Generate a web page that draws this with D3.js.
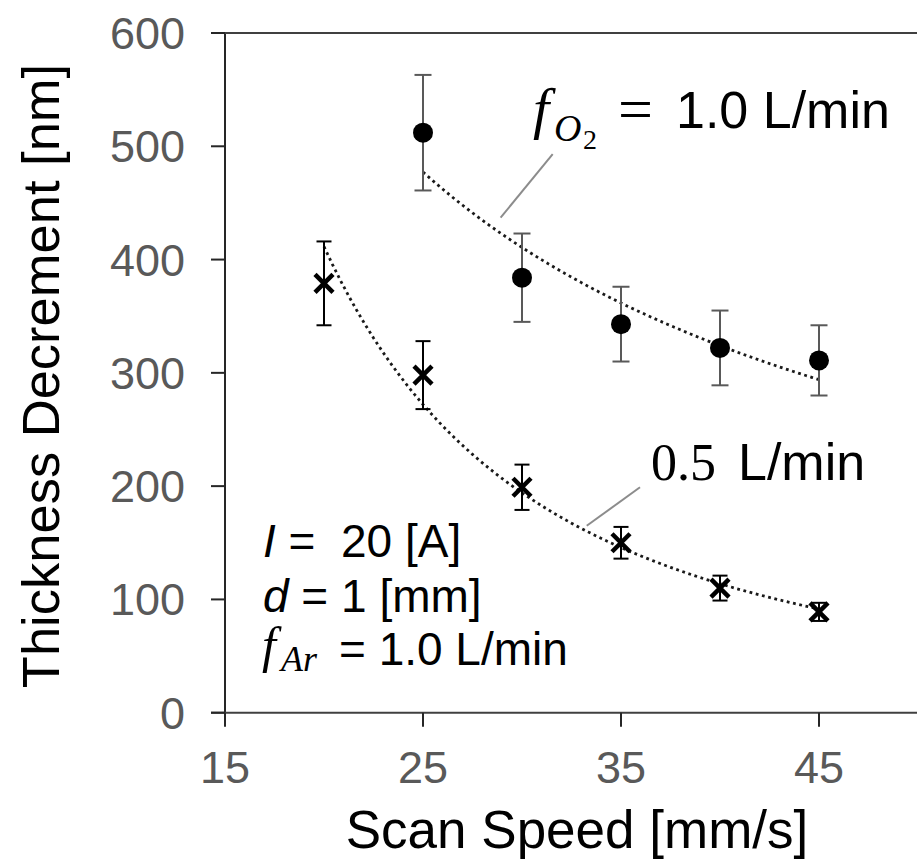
<!DOCTYPE html>
<html>
<head>
<meta charset="utf-8">
<script src="https://d3js.org/d3.v7.min.js"></script>
<style>
  body { margin: 0; background: white; }
  svg text { font-family: "Liberation Sans", Arial, sans-serif; white-space: pre; }
  .serif { font-family: "Liberation Serif", "Times New Roman", serif; }
</style>
</head>
<body>
<div id="chart"></div>
<script>
// data
var speedO2 = [25, 30, 35, 40, 45];
var thickO2 = [512, 384, 343, 322, 311];
var errO2   = [51, 39, 33, 33, 31];

var speedAr = [20, 25, 30, 35, 40, 45];
var thickAr = [379, 298, 199, 150, 110, 89];
var errAr   = [37, 30, 20, 14, 11, 8];

var xTicks = [15, 25, 35, 45];
var yTicks = [0, 100, 200, 300, 400, 500, 600];

var W = 917, H = 861;

var svg = d3.select("#chart").append("svg")
  .attr("width", W).attr("height", H);

svg.append("rect").attr("width", W).attr("height", H).attr("fill", "white");

var x = d3.scaleLinear().domain([15, 50]).range([225, 918]);
var y = d3.scaleLinear().domain([0, 600]).range([712.7, 33]);

// frame lines (left, top, bottom)
var axisColor = "#262626";
svg.append("line").attr("x1", x(15)).attr("x2", x(15)).attr("y1", y(600)).attr("y2", y(0))
  .attr("stroke", axisColor).attr("stroke-width", 2);
svg.append("line").attr("x1", x(15) - 14).attr("x2", W).attr("y1", y(600)).attr("y2", y(600))
  .attr("stroke", "#404040").attr("stroke-width", 2);
svg.append("line").attr("x1", x(15) - 14).attr("x2", W).attr("y1", y(0)).attr("y2", y(0))
  .attr("stroke", "#404040").attr("stroke-width", 2);

// y ticks + labels
var gy = svg.append("g");
gy.selectAll("line").data(yTicks).enter().append("line")
  .attr("x1", x(15) - 14).attr("x2", x(15))
  .attr("y1", function(d) { return y(d); }).attr("y2", function(d) { return y(d); })
  .attr("stroke", axisColor).attr("stroke-width", 2);
gy.selectAll("text").data(yTicks).enter().append("text")
  .attr("x", 185).attr("y", function(d) { return y(d) + 16; })
  .attr("text-anchor", "end").attr("font-size", 45).attr("fill", "#595959")
  .text(function(d) { return d; });

// x ticks + labels
var gx = svg.append("g");
gx.selectAll("line").data(xTicks).enter().append("line")
  .attr("x1", function(d) { return x(d); }).attr("x2", function(d) { return x(d); })
  .attr("y1", y(0)).attr("y2", y(0) + 14)
  .attr("stroke", axisColor).attr("stroke-width", 2);
gx.selectAll("text").data(xTicks).enter().append("text")
  .attr("x", function(d) { return x(d); }).attr("y", 783)
  .attr("text-anchor", "middle").attr("font-size", 45).attr("fill", "#595959")
  .text(function(d) { return d; });

// axis titles
svg.append("text").attr("x", 577).attr("y", 848).attr("text-anchor", "middle")
  .attr("font-size", 53).attr("fill", "#000").text("Scan Speed [mm/s]");
svg.append("text").attr("transform", "translate(59,376) rotate(-90)").attr("text-anchor", "middle")
  .attr("font-size", 52.5).attr("fill", "#000").text("Thickness Decrement [nm]");

// power-law trendline (least squares in log-log)
function powerFit(xs, ys) {
  var lx = xs.map(Math.log), ly = ys.map(Math.log);
  var mx = d3.mean(lx), my = d3.mean(ly);
  var sxy = d3.sum(lx, function(v, i) { return (v - mx) * (ly[i] - my); });
  var sxx = d3.sum(lx, function(v) { return (v - mx) * (v - mx); });
  var b = sxy / sxx, a = Math.exp(my - b * mx);
  return function(v) { return a * Math.pow(v, b); };
}

function trend(xs, ys) {
  var f = powerFit(xs, ys);
  var lo = d3.min(xs), hi = d3.max(xs), pts = [];
  for (var i = 0; i <= 60; i++) { var v = lo + (hi - lo) * i / 60; pts.push([v, f(v)]); }
  svg.append("path").datum(pts)
    .attr("d", d3.line().x(function(d) { return x(d[0]); }).y(function(d) { return y(d[1]); }))
    .attr("fill", "none").attr("stroke", "#1a1a1a").attr("stroke-width", 2.8)
    .attr("stroke-dasharray", "2.8,3.6");
}

function errorBars(xs, ys, es, color, cap) {
  var g = svg.append("g").attr("stroke", color).attr("stroke-width", 2);
  xs.forEach(function(v, i) {
    g.append("line").attr("x1", x(v)).attr("x2", x(v)).attr("y1", y(ys[i] - es[i])).attr("y2", y(ys[i] + es[i]));
    g.append("line").attr("x1", x(v) - cap).attr("x2", x(v) + cap).attr("y1", y(ys[i] + es[i])).attr("y2", y(ys[i] + es[i]));
    g.append("line").attr("x1", x(v) - cap).attr("x2", x(v) + cap).attr("y1", y(ys[i] - es[i])).attr("y2", y(ys[i] - es[i]));
  });
}

trend(speedO2, thickO2);
trend(speedAr, thickAr);
errorBars(speedO2, thickO2, errO2, "#595959", 8.5);
errorBars(speedAr, thickAr, errAr, "#000", 7.5);

// markers
svg.append("g").selectAll("circle").data(speedO2).enter().append("circle")
  .attr("cx", function(d) { return x(d); })
  .attr("cy", function(d, i) { return y(thickO2[i]); })
  .attr("r", 10).attr("fill", "#000");

var s = 9;
svg.append("g").selectAll("path").data(speedAr).enter().append("path")
  .attr("d", function(d, i) {
    var cx = x(d), cy = y(thickAr[i]);
    return "M" + (cx - s) + "," + (cy - s) + "L" + (cx + s) + "," + (cy + s) +
           "M" + (cx - s) + "," + (cy + s) + "L" + (cx + s) + "," + (cy - s);
  })
  .attr("stroke", "#000").attr("stroke-width", 4.5).attr("fill", "none");

// leader lines (in data units)
var leaders = [[[28.92, 437], [31.55, 493]], [[33.27, 165], [35.96, 199]]];
svg.append("g").selectAll("line").data(leaders).enter().append("line")
  .attr("x1", function(d) { return x(d[0][0]); }).attr("y1", function(d) { return y(d[0][1]); })
  .attr("x2", function(d) { return x(d[1][0]); }).attr("y2", function(d) { return y(d[1][1]); })
  .attr("stroke", "#8c8c8c").attr("stroke-width", 2);

// series labels
svg.append("text").attr("class", "serif").attr("x", 533).attr("y", 128)
  .attr("font-size", 58).attr("font-style", "italic").text("f");
svg.append("text").attr("class", "serif").attr("x", 554).attr("y", 141)
  .attr("font-size", 38).attr("font-style", "italic").text("O");
svg.append("text").attr("class", "serif").attr("x", 583).attr("y", 149)
  .attr("font-size", 28).text("2");
svg.append("text").attr("class", "serif").attr("x", 618).attr("y", 130)
  .attr("font-size", 62).text("=");
svg.append("text").attr("x", 676).attr("y", 128).attr("font-size", 52).text("1.0 L/min");

svg.append("text").attr("class", "serif").attr("x", 651).attr("y", 480)
  .attr("font-size", 52).text("0.5");
svg.append("text").attr("x", 738).attr("y", 480).attr("font-size", 52).text("L/min");

// conditions
var cond = svg.append("g").attr("font-size", 46).attr("fill", "#000");
var t1 = cond.append("text").attr("x", 263).attr("y", 557);
t1.append("tspan").attr("font-style", "italic").text("I");
t1.append("tspan").text(" =  20 [A]");
var t2 = cond.append("text").attr("x", 263).attr("y", 612);
t2.append("tspan").attr("font-style", "italic").text("d");
t2.append("tspan").text(" = 1 [mm]");
cond.append("text").attr("class", "serif").attr("x", 262).attr("y", 662)
  .attr("font-size", 50).attr("font-style", "italic").text("f");
cond.append("text").attr("class", "serif").attr("x", 281).attr("y", 671)
  .attr("font-size", 36).attr("font-style", "italic").text("Ar");
cond.append("text").attr("x", 339).attr("y", 665).text("= 1.0 L/min");
</script>
</body>
</html>
